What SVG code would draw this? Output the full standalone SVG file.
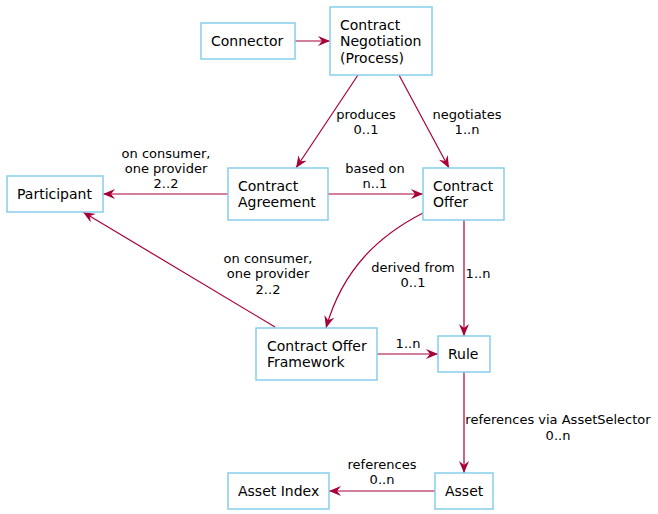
<svg xmlns="http://www.w3.org/2000/svg" width="658" height="514" viewBox="0 0 658 514">
<style>
.node rect{fill:#fff;stroke:#87ceeb;stroke-width:1.5}
.node text{font-family:"DejaVu Sans",sans-serif;font-size:14px;fill:#000}
.edges path{fill:none;stroke:#a8003a;stroke-width:1.2}
.lbl{font-family:"DejaVu Sans",sans-serif;font-size:13px;fill:#000;text-anchor:middle}
</style>
<defs>
<marker id="ah" markerUnits="userSpaceOnUse" markerWidth="14" markerHeight="12" refX="12" refY="5" orient="auto">
<path d="M0,0 L12,5 L0,10 L4,5 z" fill="#a8003a"/>
</marker>
</defs>
<rect width="658" height="514" fill="#fff"/>
<g class="edges">
<path d="M295,41 L330,41" marker-end="url(#ah)"/>
<path d="M358,75 L296,168" marker-end="url(#ah)"/>
<path d="M399,75 L449,168" marker-end="url(#ah)"/>
<path d="M228,194 L103,194" marker-end="url(#ah)"/>
<path d="M328,194 L423,194" marker-end="url(#ah)"/>
<path d="M423,213 C380,235 343,268 326,328" marker-end="url(#ah)"/>
<path d="M464,220 L464,336" marker-end="url(#ah)"/>
<path d="M275,327 L83,212" marker-end="url(#ah)"/>
<path d="M377,354 L438,354" marker-end="url(#ah)"/>
<path d="M464,372 L464,473" marker-end="url(#ah)"/>
<path d="M435,491 L329,491" marker-end="url(#ah)"/>
<text class="lbl" x="366" y="119">produces</text>
<text class="lbl" x="366" y="134">0..1</text>
<text class="lbl" x="467" y="119">negotiates</text>
<text class="lbl" x="467" y="134">1..n</text>
<text class="lbl" x="166" y="158">on consumer,</text>
<text class="lbl" x="166" y="173">one provider</text>
<text class="lbl" x="166" y="188">2..2</text>
<text class="lbl" x="375" y="173">based on</text>
<text class="lbl" x="375" y="188">n..1</text>
<text class="lbl" x="413" y="272">derived from</text>
<text class="lbl" x="413" y="287">0..1</text>
<text class="lbl" x="478" y="278">1..n</text>
<text class="lbl" x="268" y="263">on consumer,</text>
<text class="lbl" x="268" y="278">one provider</text>
<text class="lbl" x="268" y="294">2..2</text>
<text class="lbl" x="408" y="348">1..n</text>
<text class="lbl" x="558" y="424">references via AssetSelector</text>
<text class="lbl" x="558" y="440">0..n</text>
<text class="lbl" x="382" y="469">references</text>
<text class="lbl" x="382" y="484">0..n</text>
</g>
<g id="connector" class="node"><rect x="201" y="23" width="94" height="36"/><text x="211" y="46">Connector</text></g>
<g id="negotiation" class="node"><rect x="330" y="7" width="102" height="68"/><text x="340" y="30">Contract</text><text x="340" y="46">Negotiation</text><text x="340" y="63">(Process)</text></g>
<g id="participant" class="node"><rect x="7" y="176" width="96" height="36"/><text x="17" y="199">Participant</text></g>
<g id="agreement" class="node"><rect x="228" y="168" width="100" height="52"/><text x="238" y="191">Contract</text><text x="238" y="207">Agreement</text></g>
<g id="offer" class="node"><rect x="423" y="168" width="81" height="52"/><text x="433" y="191">Contract</text><text x="433" y="207">Offer</text></g>
<g id="framework" class="node"><rect x="256" y="328" width="121" height="52"/><text x="267" y="351">Contract Offer</text><text x="267" y="367">Framework</text></g>
<g id="rule" class="node"><rect x="438" y="336" width="52" height="36"/><text x="448" y="359">Rule</text></g>
<g id="assetindex" class="node"><rect x="228" y="473" width="101" height="36"/><text x="238" y="496">Asset Index</text></g>
<g id="asset" class="node"><rect x="435" y="473" width="58" height="36"/><text x="445" y="496">Asset</text></g>
</svg>
